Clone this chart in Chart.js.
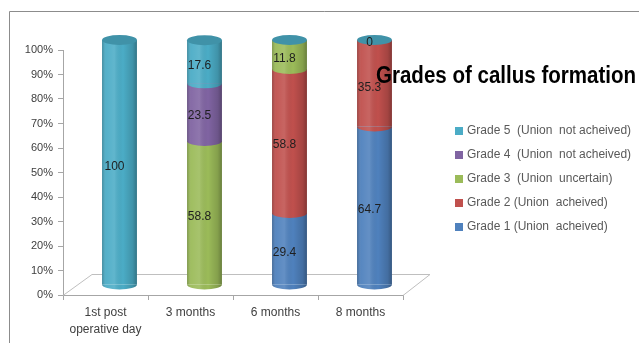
<!DOCTYPE html>
<html>
<head>
<meta charset="utf-8">
<script src="https://cdn.jsdelivr.net/npm/chart.js@4"></script>
<style>
  html, body { margin: 0; padding: 0; background: #fff; }
  #wrap { position: relative; width: 639px; height: 343px; }
</style>
</head>
<body>
<div id="wrap"><canvas id="c" width="639" height="343"></canvas></div>
<script>
// ---- data ----
const categories = [["1st post", "operative day"], "3 months", "6 months", "8 months"];
const grade1 = [null, null, 29.4, 64.7];
const grade2 = [null, null, 58.8, 35.3];
const grade3 = [null, 58.8, 11.8, null];
const grade4 = [null, 23.5, null, null];
const grade5 = [100, 17.6, null, 0];
const seriesNames = [
  "Grade 1 (Union  acheived)",
  "Grade 2 (Union  acheived)",
  "Grade 3  (Union  uncertain)",
  "Grade 4  (Union  not acheived)",
  "Grade 5  (Union  not acheived)"
];
const seriesColors = ["#4f81bd", "#c0504d", "#9bbb59", "#8064a2", "#4bacc6"];
const yTicks = [0, 10, 20, 30, 40, 50, 60, 70, 80, 90, 100];
const titleText = "Grades of callus formation";

const FONT = "'Liberation Sans', Arial, sans-serif";
const DX = 14, DY = -10, RY = 5;

function shade(hex, f) {
  const n = parseInt(hex.slice(1), 16);
  let r = (n >> 16) & 255, g = (n >> 8) & 255, b = n & 255;
  r = Math.round(r * f); g = Math.round(g * f); b = Math.round(b * f);
  return `rgb(${Math.min(255,r)},${Math.min(255,g)},${Math.min(255,b)})`;
}

function cylGrad(ctx, x, w) {
  const g = ctx.createLinearGradient(x - w / 2, 0, x + w / 2, 0);
  g.addColorStop(0, 'rgba(0,0,0,0.22)');
  g.addColorStop(0.12, 'rgba(255,255,255,0.05)');
  g.addColorStop(0.35, 'rgba(255,255,255,0.12)');
  g.addColorStop(0.6, 'rgba(0,0,0,0)');
  g.addColorStop(0.88, 'rgba(0,0,0,0.15)');
  g.addColorStop(1, 'rgba(0,0,0,0.32)');
  return g;
}

const framePlugin = {
  id: 'frame',
  beforeDraw(chart) {
    const ctx = chart.ctx;
    ctx.save();
    ctx.fillStyle = '#fff';
    ctx.fillRect(0, 0, chart.width, chart.height);
    ctx.strokeStyle = '#8c8c8c';
    ctx.lineWidth = 1;
    ctx.beginPath();
    ctx.moveTo(9.5, chart.height);
    ctx.lineTo(9.5, 11.5);
    ctx.lineTo(chart.width, 11.5);
    ctx.stroke();
    ctx.restore();
  }
};

const cylPlugin = {
  id: 'cyl',
  beforeDatasetsDraw(chart) {
    const ctx = chart.ctx;
    const ys = chart.scales.y;
    const y0 = Math.round(ys.getPixelForValue(0)) + 0.5;
    const l = chart.chartArea.left, r = chart.chartArea.right;
    // floor
    ctx.save();
    ctx.strokeStyle = '#bfbfbf';
    ctx.lineWidth = 1;
    ctx.beginPath();
    ctx.moveTo(l, y0);
    ctx.lineTo(l + 2 * DX + 1, y0 - 21);
    ctx.lineTo(r + 2 * DX - 1, y0 - 21);
    ctx.lineTo(r, y0);
    ctx.stroke();
    ctx.restore();
    ctx.save();
    ctx.translate(DX, DY);
  },
  afterDatasetsDraw(chart) {
    const ctx = chart.ctx;
    const tops = [];
    chart.data.datasets.forEach((ds, di) => {
      const meta = chart.getDatasetMeta(di);
      meta.data.forEach((el, i) => {
        const v = ds.data[i];
        if (v === null || v === undefined) return;
        const w = el.width, x = el.x;
        const top = Math.min(el.y, el.base), bot = Math.max(el.y, el.base);
        if (tops[i] === undefined || top < tops[i].y) tops[i] = { y: top, x, w };
        if (bot - top < 0.5) return;
        ctx.fillStyle = cylGrad(ctx, x, w);
        ctx.fillRect(x - w / 2, top, w, bot - top);
        ctx.beginPath();
        ctx.ellipse(x, bot, w / 2, RY, 0, 0, Math.PI);
        ctx.closePath();
        ctx.fillStyle = ds.backgroundColor;
        ctx.fill();
        ctx.fillStyle = cylGrad(ctx, x, w);
        ctx.fill();
      });
    });
    tops.forEach(t => {
      if (!t) return;
      ctx.beginPath();
      ctx.ellipse(t.x, t.y, t.w / 2, RY, 0, 0, Math.PI * 2);
      ctx.fillStyle = shade(seriesColors[4], 0.85);
      ctx.fill();
    });
    ctx.fillStyle = '#1e1e1e';
    ctx.font = '12px ' + FONT;
    ctx.textAlign = 'center';
    ctx.textBaseline = 'middle';
    chart.data.datasets.forEach((ds, di) => {
      const meta = chart.getDatasetMeta(di);
      meta.data.forEach((el, i) => {
        const v = ds.data[i];
        if (v === null || v === undefined) return;
        const top = Math.min(el.y, el.base), bot = Math.max(el.y, el.base);
        const y = bot - top < 0.5 ? top + 3 : (top + bot) / 2 + 4;
        ctx.fillText(String(v), el.x - 5, y);
      });
    });
    ctx.restore();
  }
};

const overlayPlugin = {
  id: 'overlay',
  afterDraw(chart) {
    const ctx = chart.ctx;
    ctx.save();
    ctx.font = 'bold 23px ' + FONT;
    ctx.fillStyle = '#000';
    ctx.textBaseline = 'alphabetic';
    ctx.textAlign = 'left';
    const tw = ctx.measureText(titleText).width;
    const sx = 260 / tw;
    ctx.translate(376, 83);
    ctx.scale(sx, 1);
    ctx.fillText(titleText, 0, 0);
    ctx.restore();
    ctx.save();
    ctx.font = '12px ' + FONT;
    ctx.textBaseline = 'middle';
    ctx.textAlign = 'left';
    const ys = [131, 155, 179, 203, 227];
    for (let k = 0; k < 5; k++) {
      const di = 4 - k;
      ctx.fillStyle = seriesColors[di];
      ctx.fillRect(455, ys[k] - 4, 8, 8);
      ctx.fillStyle = '#595959';
      ctx.fillText(seriesNames[di], 467, ys[k]);
    }
    ctx.restore();
  }
};

const seriesData = [grade1, grade2, grade3, grade4, grade5];
const datasets = seriesData.map((d, i) => ({
  label: seriesNames[i],
  data: d,
  backgroundColor: seriesColors[i],
  borderWidth: 0,
  barPercentage: 0.41,
  categoryPercentage: 1.0
}));

new Chart(document.getElementById('c'), {
  type: 'bar',
  data: { labels: categories, datasets },
  options: {
    responsive: false,
    animation: false,
    devicePixelRatio: 1,
    layout: { padding: { top: 50, right: 236, bottom: 0, left: 0 } },
    plugins: {
      legend: { display: false },
      title: { display: false },
      tooltip: { enabled: false }
    },
    scales: {
      x: {
        stacked: true,
        offset: true,
        grid: { drawOnChartArea: false, offset: true, tickLength: 5, color: '#a6a6a6' },
        border: { color: '#a6a6a6' },
        ticks: { color: '#404040', font: { family: FONT, size: 12, lineHeight: 1.35 }, padding: 5, maxRotation: 0, autoSkip: false },
        afterFit(s) { s.height = 48; }
      },
      y: {
        stacked: true,
        min: 0,
        max: 100,
        afterBuildTicks(s) { s.ticks = yTicks.map(v => ({ value: v })); },
        grid: { drawOnChartArea: false, tickLength: 5, color: '#a6a6a6' },
        border: { color: '#a6a6a6' },
        ticks: { color: '#404040', font: { family: FONT, size: 11 }, padding: 5, callback: v => v + '%' },
        afterFit(s) { s.width = 63; }
      }
    }
  },
  plugins: [framePlugin, cylPlugin, overlayPlugin]
});
</script>
</body>
</html>
